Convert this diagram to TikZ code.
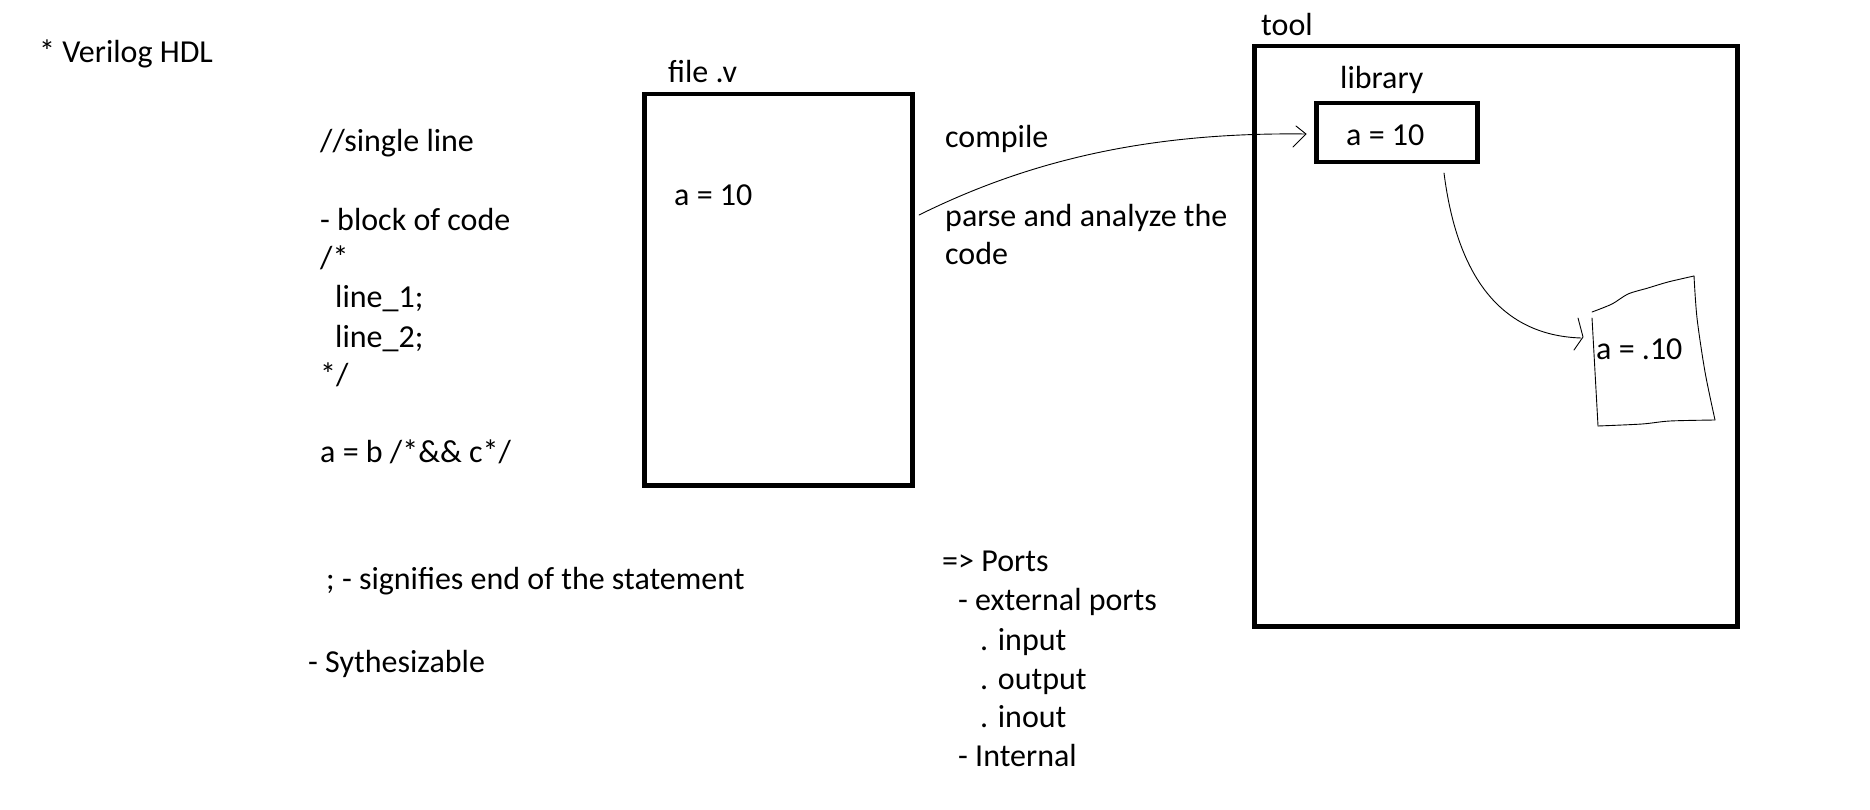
\documentclass[tikz,border=0pt]{standalone}
\usepackage{fontspec}
\setmainfont{Carlito}
\begin{document}
\begin{tikzpicture}[x=1pt,y=-1pt,
  txt/.style={anchor=base west,inner sep=0pt,yshift=-2.5pt,font=\fontsize{32}{38}\selectfont},
  box/.style={draw,line width=4.5pt,inner sep=0pt,anchor=north west},
  hand/.style={line width=0.9pt,line cap=round,line join=round}]
\useasboundingbox (0,0) rectangle (1870,810);
% boxes
\node[box,minimum width=268pt,minimum height=391pt] (file) at (642,92) {};
\node[box,minimum width=483pt,minimum height=580pt] (tool) at (1252,44) {};
\node[box,minimum width=161pt,minimum height=59pt] (lib) at (1314,101) {};
% left texts
\node[txt] (t0) at (39,60) {* Verilog HDL};
\node[txt] (t1) at (320,149) {//single line};
\node[txt] (t2) at (320,228) {- block of code};
\node[txt] (t3) at (320,266) {/*};
\node[txt] (t4) at (335,305) {line\_1;};
\node[txt] (t5) at (335,345) {line\_2;};
\node[txt] (t6) at (320,383) {*/};
\node[txt] (t7) at (320,460) {a = b /*\&\& c*/};
\node[txt] (t8) at (326,587) {; - signifies end of the statement};
\node[txt] (t9) at (308,670) {- Sythesizable};
% file box texts
\node[txt] (fl) at (668,80) {file .v};
\node[txt] (fa) at (674,203) {a = 10};
% middle texts
\node[txt] (c1) at (945,145) {compile};
\node[txt] (c2) at (945,224) {parse and analyze the};
\node[txt] (c3) at (945,262) {code};
\node[txt] (p0) at (942,569) {=> Ports};
\node[txt] (p1) at (958,608) {- external ports};
\node[txt] (p2) at (980,648) {. input};
\node[txt] (p3) at (980,687) {. output};
\node[txt] (p4) at (980,725) {. inout};
\node[txt] (p5) at (958,764) {- Internal};
% tool texts
\node[txt] (tl) at (1261,33) {tool};
\node[txt] (ll) at (1340,86) {library};
\node[txt] (la) at (1346,143) {a = 10};
\node[txt] (ha) at (1596,357) {a = .10};
% hand-drawn box
\coordinate (h1) at (1592,312);
\coordinate (h2) at (1694,276);
\coordinate (h3) at (1715,420);
\coordinate (h4) at (1598,426);
\draw[hand] plot[smooth] coordinates {(h1) (1612,304) (1628,294) (1648,288) (1668,282) (h2)};
\draw[hand] plot[smooth] coordinates {(h2) (1697,318) (1705,372) (h3)};
\draw[hand] plot[smooth] coordinates {(h3) (1670,421) (1642,424) (h4)};
\draw[hand] (h4) -- (1592,318);
% arrow 1: file -> library
\coordinate (a1s) at (919,215);
\coordinate (a1e) at (1306,134);
\draw[hand] (a1s) .. controls (1030,160) and (1150,132) .. (a1e);
\draw[hand] (1296,126) -- (a1e) -- (1293,147);
% arrow 2: library -> hand box
\coordinate (a2s) at (1444,173);
\coordinate (a2e) at (1581,338);
\draw[hand] (a2s) .. controls (1455,260) and (1490,335) .. (a2e);
\draw[hand] (1578,318) -- (1583,337) -- (1574,350);
\end{tikzpicture}
\end{document}
